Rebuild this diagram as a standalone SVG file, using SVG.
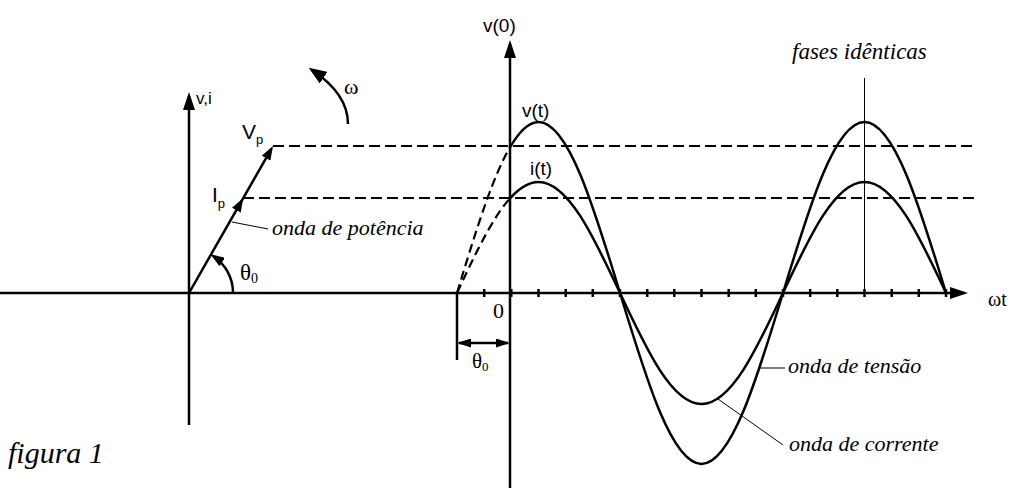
<svg xmlns="http://www.w3.org/2000/svg" width="1014" height="489" viewBox="0 0 1014 489">
<style>
.ax{stroke:#000;stroke-width:2.5;fill:none}
.wv{stroke:#000;stroke-width:2.5;fill:none}
.dsh{stroke:#000;stroke-width:2.2;fill:none;stroke-dasharray:11 5}
.thin{stroke:#000;stroke-width:1;fill:none}
.tk{stroke:#000;stroke-width:2.5}
.it{font-family:'Liberation Serif','Times New Roman','DejaVu Serif',serif;font-style:italic;font-size:22px;fill:#000}
.sn{font-family:'Liberation Sans',Arial,sans-serif;font-size:19px;fill:#000}
.sr{font-family:'Liberation Serif','Times New Roman','DejaVu Serif',serif;font-size:22px;fill:#000}
</style>
<defs>
<marker id="axh" viewBox="0 0 18 12" markerWidth="18" markerHeight="12" refX="14" refY="6" markerUnits="userSpaceOnUse" orient="auto"><path d="M0,0 L18,6 L0,12 Z" fill="#000"/></marker>
<marker id="phh" viewBox="0 0 14 10" markerWidth="14" markerHeight="10" refX="11" refY="5" markerUnits="userSpaceOnUse" orient="auto"><path d="M0,0 L14,5 L0,10 Z" fill="#000"/></marker>
<marker id="omh" viewBox="0 0 18 14" markerWidth="18" markerHeight="14" refX="14" refY="7" markerUnits="userSpaceOnUse" orient="auto"><path d="M0,0 L18,7 L0,14 Z" fill="#000"/></marker>
<marker id="dmh" viewBox="0 0 14 9" markerWidth="14" markerHeight="9" refX="12" refY="4.5" markerUnits="userSpaceOnUse" orient="auto-start-reverse"><path d="M0,0 L14,4.5 L0,9 Z" fill="#000"/></marker>
<clipPath id="cl"><rect x="0" y="0" width="510" height="489"/></clipPath>
<clipPath id="cr"><rect x="510" y="0" width="504" height="489"/></clipPath>
<path id="vw" d="M457,293 C483.58,205.4 509,122 538.5,122 C568,122 593.42,205.4 620,293 C646.58,380.6 672,464 701.5,464 C731,464 756.42,380.6 783,293 C809.58,205.4 835,122 864.5,122 C894,122 919.42,205.4 946,293"/>
<path id="iw" d="M457,293 C483.58,236.14 509,182 538.5,182 C568,182 593.42,236.14 620,293 C646.58,349.86 672,404 701.5,404 C731,404 756.42,349.86 783,293 C809.58,236.14 835,182 864.5,182 C894,182 919.42,236.14 946,293"/>
</defs>

<g id="axes">
<line class="ax" x1="0" y1="293" x2="964" y2="293" marker-end="url(#axh)"/>
<line class="ax" x1="189" y1="425" x2="189" y2="96" marker-end="url(#axh)"/>
<line class="ax" x1="510" y1="488" x2="510" y2="44" marker-end="url(#axh)"/>
<g id="ticks">
<line class="tk" x1="484.2" y1="289" x2="484.2" y2="297"/>
<line class="tk" x1="511.3" y1="289" x2="511.3" y2="297"/>
<line class="tk" x1="538.5" y1="289" x2="538.5" y2="297"/>
<line class="tk" x1="565.7" y1="289" x2="565.7" y2="297"/>
<line class="tk" x1="592.8" y1="289" x2="592.8" y2="297"/>
<line class="tk" x1="620" y1="289" x2="620" y2="297"/>
<line class="tk" x1="647.2" y1="289" x2="647.2" y2="297"/>
<line class="tk" x1="674.3" y1="289" x2="674.3" y2="297"/>
<line class="tk" x1="701.5" y1="289" x2="701.5" y2="297"/>
<line class="tk" x1="728.7" y1="289" x2="728.7" y2="297"/>
<line class="tk" x1="755.8" y1="289" x2="755.8" y2="297"/>
<line class="tk" x1="783" y1="289" x2="783" y2="297"/>
<line class="tk" x1="810.2" y1="289" x2="810.2" y2="297"/>
<line class="tk" x1="837.3" y1="289" x2="837.3" y2="297"/>
<line class="tk" x1="864.5" y1="289" x2="864.5" y2="297"/>
<line class="tk" x1="891.7" y1="289" x2="891.7" y2="297"/>
<line class="tk" x1="918.8" y1="289" x2="918.8" y2="297"/>
<line class="tk" x1="946" y1="289" x2="946" y2="297"/>
</g>
</g>

<g id="phasor">
<path class="ax" d="M189,293 L241.8,200.6 L271.5,148.6" marker-mid="url(#phh)" marker-end="url(#phh)"/>
<path class="ax" d="M233,293 A44,44 0 0 0 213,256" marker-end="url(#phh)"/>
<path class="ax" d="M348,124 C348,100 330,82 312,70" marker-end="url(#omh)"/>
</g>

<g id="levels">
<line class="dsh" x1="273" y1="146" x2="975" y2="146"/>
<line class="dsh" x1="243" y1="198" x2="975" y2="198"/>
</g>

<g id="waves">
<use href="#vw" class="dsh" clip-path="url(#cl)" style="stroke-dasharray:9 5"/>
<use href="#iw" class="dsh" clip-path="url(#cl)" style="stroke-dasharray:9 5"/>
<use href="#vw" class="wv" clip-path="url(#cr)"/>
<use href="#iw" class="wv" clip-path="url(#cr)"/>
<line class="thin" x1="864.5" y1="78" x2="864.5" y2="293"/>
</g>

<g id="theta-dim">
<line class="ax" x1="457" y1="293" x2="457" y2="360"/>
<line class="ax" x1="459" y1="343" x2="508" y2="343" marker-start="url(#dmh)" marker-end="url(#dmh)"/>
</g>

<g id="connectors">
<line class="thin" x1="232" y1="222" x2="268" y2="229"/>
<line class="thin" x1="760" y1="368" x2="785" y2="368"/>
<line class="thin" x1="718" y1="399" x2="783" y2="445"/>
</g>

<g id="labels">
<text class="sn" x="196" y="104" style="font-size:17px">v,i</text>
<text class="sr" x="344" y="94">ω</text>
<text class="sn" x="242" y="139" style="font-size:21px">V<tspan dy="5" style="font-size:13px">p</tspan></text>
<text class="sn" x="212" y="202" style="font-size:21px">I<tspan dy="6" style="font-size:13px">p</tspan></text>
<text class="sr" x="240" y="280" style="font-size:23px">θ<tspan dy="3" style="font-size:14px">0</tspan></text>
<text class="sr" x="472" y="368" style="font-size:21px">θ<tspan dy="3" style="font-size:13px">0</tspan></text>
<text class="sr" x="493" y="318">0</text>
<text class="sn" x="483" y="32">v(0)</text>
<text class="sn" x="522" y="117">v(t)</text>
<text class="sn" x="530" y="175">i(t)</text>
<text class="sr" x="988" y="306" style="font-size:20px">ωt</text>
<text class="it" x="792" y="59" style="font-size:23px">fases idênticas</text>
<text class="it" x="272" y="235">onda de potência</text>
<text class="it" x="788" y="373">onda de tensão</text>
<text class="it" x="789" y="451">onda de corrente</text>
<text class="it" x="8" y="463" style="font-size:30px">figura 1</text>
</g>
</svg>
